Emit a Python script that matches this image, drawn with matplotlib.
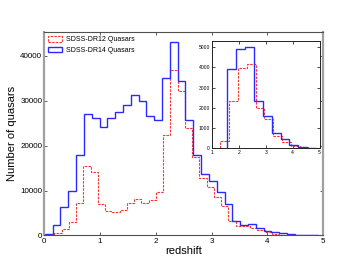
import numpy as np
import matplotlib
matplotlib.use('Agg')
import matplotlib.pyplot as plt

plt.rcParams['font.family'] = ['Liberation Sans', 'DejaVu Sans']

# main panel: SDSS-DR14 (blue), bins of 0.14 starting at z=0.01
dr14_start, dr14_width = 0.01, 0.14
dr14_counts = [300, 2370, 6370, 10000, 17850, 26960, 26070, 24150, 26150, 27560,
               29040, 31260, 30000, 26670, 25630, 35110, 42960, 34400, 25800, 18000,
               13600, 12100, 9700, 7100, 3200, 2250, 2450, 1560, 960, 670,
               440, 250, 180, 120, 80]

# main panel: SDSS-DR12 (red), bins of 0.13 starting at z=0.05
dr12_start, dr12_width = 0.05, 0.13
dr12_counts = [150, 500, 1400, 2900, 7300, 15500, 14200, 7100, 5400, 5200,
               5600, 7200, 8100, 7300, 7900, 9600, 22300, 36900, 32100, 24000,
               17500, 12800, 10700, 8500, 6500, 3200, 2200, 2000, 1700, 1150,
               700, 380, 200, 120, 80, 50, 30, 20]

# inset
ins14_start, ins12_start, ins_width = 1.57, 1.30, 0.33
ins14_counts = [3900, 4900, 5030, 2330, 1600, 770, 460, 180, 60, 20]
ins12_counts = [350, 2350, 3970, 4150, 2000, 1460, 600, 300, 110, 40, 15]


def edges(start, width, n):
    return start + width * np.arange(n + 1)


def step_hist(ax, start, width, counts, **kw):
    e = edges(start, width, len(counts))
    return ax.hist(e[:-1], bins=e, weights=counts, histtype='step', **kw)


fig = plt.figure(figsize=(3.6, 2.7), dpi=100)
ax = fig.add_axes([0.123, 0.128, 0.775, 0.752])

step_hist(ax, dr12_start, dr12_width, dr12_counts, color='#ff3030', lw=0.8,
          ls=(0, (2.2, 1.1)), label='SDSS-DR12 Quasars')
step_hist(ax, dr14_start, dr14_width, dr14_counts, color='#2a2aff', lw=1.0,
          label='SDSS-DR14 Quasars')

ax.set_xlim(0, 5)
ax.set_ylim(0, 45200)
ax.set_xticks([0, 1, 2, 3, 4, 5])
ax.set_yticks([0, 10000, 20000, 30000, 40000])
ax.tick_params(direction='in', length=2.5, width=0.6, labelsize=5.8, pad=1.5,
               top=True, right=True, color='#444444')
ax.set_xlabel('redshift', fontsize=8, labelpad=1)
ax.set_ylabel('Number of quasars', fontsize=8, labelpad=2)
for side in ['left', 'right']:
    ax.spines[side].set_color('#a0a0a0')
    ax.spines[side].set_linewidth(1.6)
for side in ['top', 'bottom']:
    ax.spines[side].set_color('#505050')
    ax.spines[side].set_linewidth(0.8)

ax.legend(loc='upper left', fontsize=5, frameon=False, handlelength=2.0,
          handleheight=0.9, handletextpad=0.6, labelspacing=0.5,
          borderaxespad=0.3, borderpad=0.2)

# inset
ins = fig.add_axes([0.589, 0.451, 0.2985, 0.397])
step_hist(ins, ins12_start, ins_width, ins12_counts, color='#ff3030', lw=0.8,
          ls=(0, (2.2, 1.1)))
step_hist(ins, ins14_start, ins_width, ins14_counts, color='#2a2aff', lw=1.0)
ins.set_xlim(1, 5)
ins.set_ylim(0, 5300)
ins.set_xticks([1, 2, 3, 4, 5])
ins.set_yticks([0, 1000, 2000, 3000, 4000, 5000])
ins.tick_params(direction='in', length=2, width=0.5, labelsize=3.6, pad=1.5,
                top=True, right=True)
for s in ins.spines.values():
    s.set_linewidth(0.7)
    s.set_color('#222222')

fig.savefig('out.png', dpi=100)
